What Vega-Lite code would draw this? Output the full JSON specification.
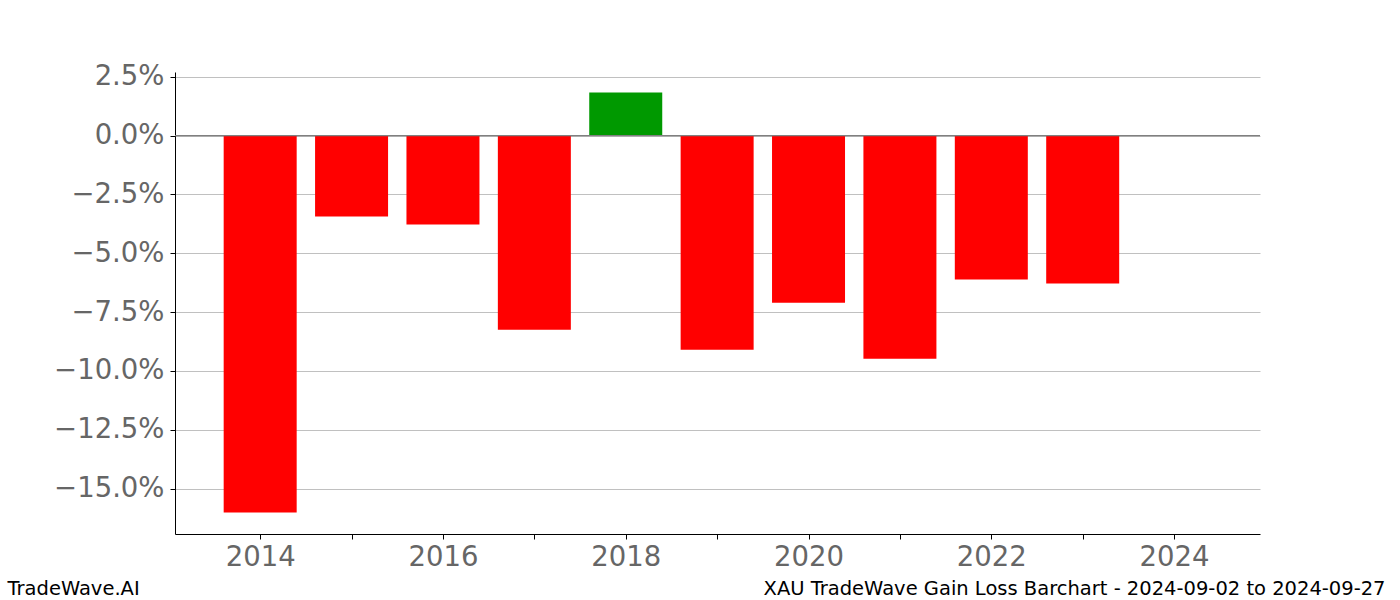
{
  "$schema": "https://vega.github.io/schema/vega-lite/v6.json",
  "width": 1085,
  "height": 462,
  "autosize": {"type": "none"},
  "padding": {"left": 175, "top": 72, "right": 140, "bottom": 66},
  "background": "white",
  "config": {
    "view": {"stroke": null},
    "font": "DejaVu Sans"
  },
  "data": {
    "values": [
      {"year": 2014, "value": -0.1602},
      {"year": 2015, "value": -0.0344},
      {"year": 2016, "value": -0.0378},
      {"year": 2017, "value": -0.0825},
      {"year": 2018, "value": 0.0183},
      {"year": 2019, "value": -0.0910},
      {"year": 2020, "value": -0.0710},
      {"year": 2021, "value": -0.0948},
      {"year": 2022, "value": -0.0612},
      {"year": 2023, "value": -0.0629}
    ]
  },
  "layer": [
    {
      "mark": {"type": "bar", "width": 73},
      "encoding": {
        "x": {
          "field": "year",
          "type": "quantitative",
          "scale": {"domain": [2013.068, 2024.94], "nice": false, "zero": false, "padding": 0},
          "axis": {
            "values": [2014, 2015, 2016, 2017, 2018, 2019, 2020, 2021, 2022, 2023, 2024],
            "labelExpr": "datum.value % 2 == 0 ? format(datum.value, 'd') : ''",
            "grid": false,
            "domainColor": "#000000",
            "domainWidth": 1,
            "tickColor": "#000000",
            "tickSize": 5,
            "labelFontSize": 27.5,
            "labelColor": "#666666",
            "labelPadding": 4,
            "labelFont": "DejaVu Sans",
            "title": "XAU TradeWave Gain Loss Barchart - 2024-09-02 to 2024-09-27",
            "titleX": 1210,
            "titleY": 60,
            "titleAlign": "right",
            "titleAnchor": null,
            "titleBaseline": "alphabetic",
            "titleFont": "DejaVu Sans",
            "titleFontSize": 19.5,
            "titleFontWeight": "normal",
            "titleColor": "#000000"
          }
        },
        "y": {
          "field": "value",
          "type": "quantitative",
          "scale": {"domain": [-0.1693, 0.0270], "nice": false, "zero": false, "padding": 0},
          "axis": {
            "values": [-0.15, -0.125, -0.1, -0.075, -0.05, -0.025, 0, 0.025],
            "format": ".1%",
            "grid": true,
            "gridColor": "#c0c0c0",
            "gridWidth": 1,
            "domainColor": "#000000",
            "domainWidth": 1,
            "tickColor": "#000000",
            "tickSize": 5,
            "labelFontSize": 27.5,
            "labelColor": "#666666",
            "labelPadding": 6,
            "labelFont": "DejaVu Sans",
            "title": "TradeWave.AI",
            "titleAngle": 0,
            "titleX": -168,
            "titleY": 522,
            "titleAlign": "left",
            "titleBaseline": "alphabetic",
            "titleFont": "DejaVu Sans",
            "titleFontSize": 19.5,
            "titleFontWeight": "normal",
            "titleColor": "#000000"
          }
        },
        "color": {
          "condition": {"test": "datum.value > 0", "value": "#009900"},
          "value": "#ff0000"
        }
      }
    },
    {
      "mark": {"type": "rule", "color": "#808080", "strokeWidth": 1},
      "encoding": {"y": {"datum": 0}}
    }
  ]
}
